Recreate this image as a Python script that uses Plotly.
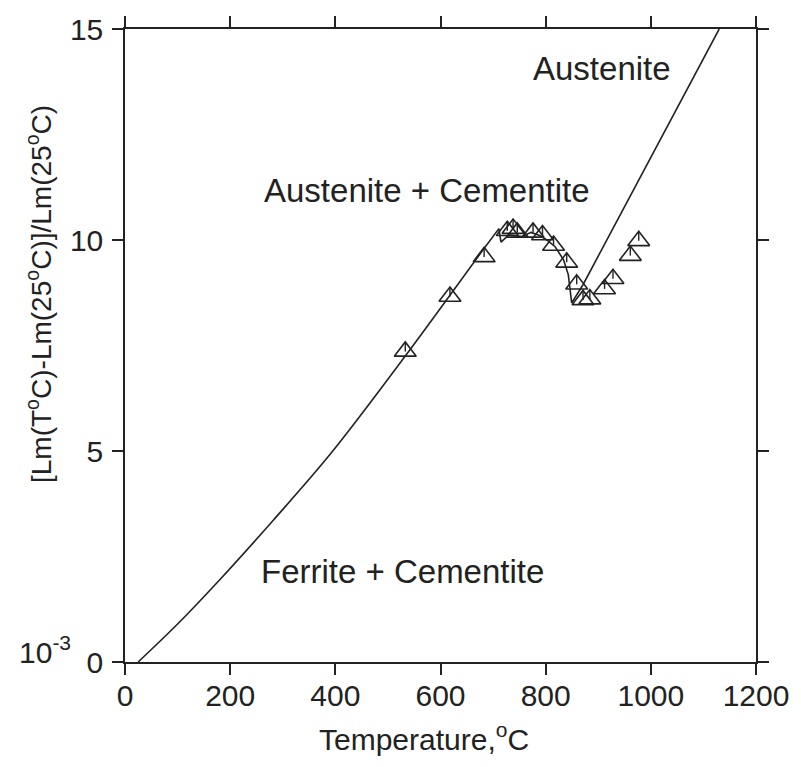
import plotly.graph_objects as go

# ---- data ----
# lower (smooth) branch of the computed curve
low_T = [25, 100, 178, 282, 392, 533, 680, 711]
low_L = [0.0, 0.9, 1.92, 3.36, 4.95, 7.25, 9.75, 10.27]
# upper (angular) branch of the computed curve
high_T = [711, 715, 730, 755, 772, 790, 802, 818, 834, 843, 849.5, 871, 1130]
high_L = [10.27, 9.95, 10.12, 10.08, 10.18, 10.1, 10.0, 9.84, 9.53, 9.18, 8.51, 8.94, 15.0]

meas_T = [533, 618, 683, 727, 738, 746, 776, 794, 815, 840, 859, 871, 884, 912, 928, 961, 977]
meas_L = [7.36, 8.66, 9.6, 10.22, 10.27, 10.18, 10.18, 10.12, 9.87, 9.47, 8.95, 8.58, 8.6, 8.84, 9.08, 9.63, 9.98]

x_ticks = [0, 200, 400, 600, 800, 1000, 1200]
y_ticks = [0, 5, 10, 15]

phase_labels = ["Austenite", "Austenite + Cementite", "Ferrite + Cementite"]
phase_T = [908, 574, 527]
phase_L = [14.06, 11.17, 2.14]

FONT = "Liberation Sans, Arial, sans-serif"
INK = "#222222"
MSIZE = 19
# marker apex height (px above centre) in data units: 638 px per 15 units
apex = (MSIZE / 2) * 15 / 638

W, H = 801, 767
L, R, T, B = 125, 37, 24, 105


def px_to_paper(px, py):
    return (px - L) / (W - L - R), 1 - (py - T) / (H - T - B)


fig = go.Figure()
fig.add_trace(go.Scatter(
    x=low_T, y=low_L, mode="lines", line=dict(color=INK, width=1.6, shape="spline", smoothing=1.0),
    showlegend=False, hoverinfo="skip"))
fig.add_trace(go.Scatter(
    x=high_T, y=high_L, mode="lines", line=dict(color=INK, width=1.6),
    showlegend=False, hoverinfo="skip"))
fig.add_trace(go.Scatter(
    x=meas_T, y=meas_L, mode="markers",
    marker=dict(symbol="triangle-up-open", size=MSIZE, color=INK, line=dict(width=1.6, color=INK)),
    error_y=dict(type="constant", value=apex, valueminus=0, symmetric=False,
                 color=INK, thickness=1.4, width=0),
    showlegend=False))

for t, x, y in zip(phase_labels, phase_T, phase_L):
    fig.add_annotation(x=x, y=y, xref="x", yref="y", text=t, showarrow=False,
                       font=dict(family=FONT, size=33, color=INK))

ax, ay = px_to_paper(38, 291)
fig.add_annotation(x=ax, y=ay, xref="paper", yref="paper",
                   text="[Lm(T<sup>o</sup>C)-Lm(25<sup>o</sup>C)]/Lm(25<sup>o</sup>C)",
                   textangle=-90, showarrow=False, xanchor="center", yanchor="middle",
                   font=dict(family=FONT, size=28, color=INK))
bx, by = px_to_paper(428, 738)
fig.add_annotation(x=bx, y=by, xref="paper", yref="paper",
                   text="Temperature,<sup>o</sup>C", showarrow=False,
                   xanchor="center", yanchor="middle",
                   font=dict(family=FONT, size=30, color=INK))
cx, cy = px_to_paper(44, 650)
fig.add_annotation(x=cx, y=cy, xref="paper", yref="paper",
                   text="10<sup>-3</sup>", showarrow=False,
                   xanchor="center", yanchor="middle",
                   font=dict(family=FONT, size=30, color=INK))

axis_common = dict(showgrid=False, zeroline=False, showline=True, linecolor=INK, linewidth=1.5,
                   ticks="outside", ticklen=11, tickwidth=1.5, tickcolor=INK, mirror="ticks",
                   tickfont=dict(family=FONT, size=30, color=INK), fixedrange=True)

fig.update_xaxes(range=[0, 1200], tickvals=x_ticks, ticktext=[str(v) for v in x_ticks],
                 ticklabelstandoff=-5, **axis_common)
fig.update_yaxes(range=[0, 15], tickvals=y_ticks, ticktext=[str(v) for v in y_ticks],
                 ticklabelstandoff=3, **axis_common)

fig.update_layout(width=W, height=H, margin=dict(l=L, r=R, t=T, b=B, pad=0),
                  plot_bgcolor="white", paper_bgcolor="white", showlegend=False)

fig.write_html("out.html", config={"displayModeBar": False},
               post_script="document.body.style.margin='0';document.body.style.overflow='hidden';")
